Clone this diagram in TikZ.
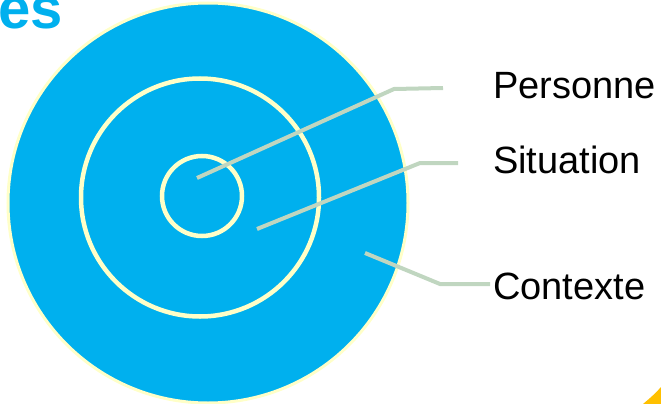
\documentclass[tikz,border=0pt]{standalone}
\usepackage{fontspec}
\setmainfont{Liberation Sans}
\definecolor{diskblue}{HTML}{00B0EE}
\definecolor{ringyellow}{HTML}{FFFFC8}
\definecolor{leadgreen}{HTML}{C0D6C0}
\definecolor{cornerorange}{HTML}{FFC000}
\tikzset{
  ring/.style={draw=ringyellow, line width=4.5pt},
  leader/.style={draw=leadgreen, line width=4pt, line join=miter},
  label/.style={anchor=base west, inner sep=0pt, font=\fontsize{38}{44}\selectfont}
}
\begin{document}
\begin{tikzpicture}[x=1pt,y=-1pt]
\useasboundingbox (0,0) rectangle (661,404);
\clip (0,0) rectangle (661,404);
% title fragment
\node[anchor=base west, inner sep=0pt, text=diskblue, font=\fontsize{58}{60}\selectfont\bfseries] (title) at (-2,29) {es};
% circles
\fill[diskblue] (208,203) circle[radius=200];
\draw[draw=ringyellow, line width=3pt] (208,203) circle[radius=200];
\draw[ring] (200,197.5) circle[radius=119];
\draw[ring] (202,196) circle[radius=40];
% labels
\node[label] (personne) at (493,98) {Personne};
\node[label] (situation) at (493,173) {Situation};
\node[label] (contexte) at (493,299) {Contexte};
% leader points
\coordinate (p0) at (197,178);
\coordinate (p1) at (394,89);
\coordinate (p2) at (443,88);
\coordinate (s0) at (257,229);
\coordinate (s1) at (420,163);
\coordinate (s2) at (458,163);
\coordinate (c0) at (365,253);
\coordinate (c1) at (440,284);
\coordinate (c2) at (490,284);
\draw[leader] (p0) -- (p1) -- (p2);
\draw[leader] (s0) -- (s1) -- (s2);
\draw[leader] (c0) -- (c1) -- (c2);
% corner fragment
\fill[cornerorange] (643,404) .. controls (650,398) and (656,393) .. (661,387) -- (661,404) -- cycle;
\end{tikzpicture}
\end{document}
